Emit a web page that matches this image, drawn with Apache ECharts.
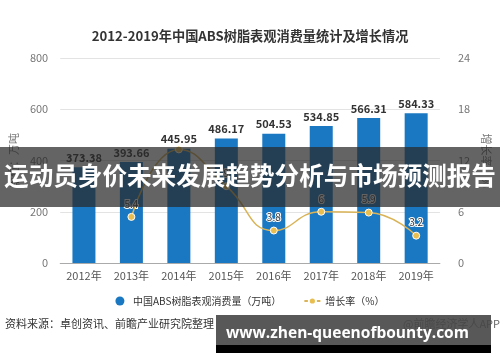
<!DOCTYPE html>
<html>
<head>
<meta charset="utf-8">
<script src="https://cdn.jsdelivr.net/npm/echarts@6/dist/echarts.min.js"></script>
<style>html,body{margin:0;padding:0;background:#fff}#c{width:500px;height:362px}</style>
</head>
<body>
<div id="c"></div>
<script>
var categories = ['2012年','2013年','2014年','2015年','2016年','2017年','2018年','2019年'];
var consumption = [373.38, 393.66, 445.95, 486.17, 504.53, 534.85, 566.31, 584.33];
var growth = [null, 5.4, 13.3, 9.0, 3.8, 6, 5.9, 3.2];
var leftTicks = [0, 200, 400, 600, 800];
var rightTicks = [0, 6, 12, 18, 24];

var FONT = '"Noto Sans CJK SC", "Noto Sans", sans-serif';
var chart = echarts.init(document.getElementById('c'));
chart.setOption({
  animation: false,
  textStyle: {fontFamily: FONT},
  title: {
    text: '2012-2019年中国ABS树脂表观消费量统计及增长情况',
    left: 'center', top: 24,
    textStyle: {fontSize: 13.2, fontWeight: 'bold', color: '#333', fontFamily: FONT}
  },
  grid: {left: 57, right: 48.5, top: 58, bottom: 99},
  legend: {
    top: 291, left: 'center', itemGap: 22, itemWidth: 16, itemHeight: 9,
    textStyle: {fontSize: 10, color: '#333'},
    data: [{name: '中国ABS树脂表观消费量（万吨）', icon: 'circle'}, {name: '增长率（%）'}]
  },
  xAxis: {
    type: 'category', data: categories,
    axisLine: {lineStyle: {color: '#aaa'}},
    axisTick: {show: false},
    axisLabel: {color: '#555', fontSize: 11, margin: 7}
  },
  yAxis: [{
    type: 'value', min: leftTicks[0], max: leftTicks[leftTicks.length-1], interval: 200,
    name: '单位：万吨', nameLocation: 'middle', nameGap: 36, nameRotate: 90,
    nameTextStyle: {color: '#777', fontSize: 11},
    axisLine: {show: false}, axisTick: {show: false},
    axisLabel: {color: '#777', fontSize: 11, margin: 12},
    splitLine: {lineStyle: {color: '#e3e3e3'}}
  }, {
    type: 'value', min: rightTicks[0], max: rightTicks[rightTicks.length-1], interval: 6,
    name: '增长率：%', nameLocation: 'middle', nameGap: 32, nameRotate: -90,
    nameTextStyle: {color: '#777', fontSize: 11},
    axisLine: {show: false}, axisTick: {show: false},
    axisLabel: {color: '#777', fontSize: 11, margin: 18},
    splitLine: {show: false}
  }],
  series: [{
    name: '中国ABS树脂表观消费量（万吨）', type: 'bar', data: consumption,
    barWidth: 23,
    itemStyle: {color: '#1a78c2'},
    label: {show: true, position: 'top', color: '#333', fontSize: 11, fontWeight: 'bold', distance: 4}
  }, {
    name: '增长率（%）', type: 'line', yAxisIndex: 1, smooth: true,
    data: growth.map(function(v, i){ return i === 2 ? {value: v, label: {show: false}} : v; }),
    symbol: 'circle', symbolSize: 7,
    lineStyle: {color: '#d9b356', width: 1.5},
    itemStyle: {color: '#e8be50', borderColor: '#fff', borderWidth: 1},
    label: {show: true, position: 'top', color: '#333', fontSize: 10, textBorderColor: '#fff', textBorderWidth: 2, distance: 4},
    z: 5
  }],
  graphic: [
    {type: 'text', left: 5, top: 318, style: {text: '资料来源：卓创资讯、前瞻产业研究院整理', fill: '#333', fontSize: 11, fontFamily: FONT}},
    {type: 'text', right: 0, top: 318, style: {text: '@前瞻经济学人APP', fill: '#666', fontSize: 11, fontFamily: FONT}},
    {type: 'rect', left: 0, top: 147, shape: {width: 500, height: 60}, style: {fill: 'rgba(40,40,40,0.72)'}, z: 100},
    {type: 'text', left: 'center', top: 163, style: {text: '运动员身价未来发展趋势分析与市场预测报告', fill: '#fff', fontSize: 24.6, fontWeight: 'bold', fontFamily: FONT}, z: 101},
    {type: 'rect', left: 216, top: 315, shape: {width: 275, height: 30}, style: {fill: 'rgba(70,70,70,0.9)'}, z: 100},
    {type: 'rect', left: 216, top: 345, shape: {width: 275, height: 8}, style: {fill: '#000'}, z: 100},
    {type: 'text', left: 226, top: 326, style: {text: 'www.zhen-queenofbounty.com', fill: '#fff', fontSize: 15.5, fontWeight: 'bold', fontFamily: '"Open Sans", "DejaVu Sans", sans-serif'}, z: 101}
  ]
});
</script>
</body>
</html>
